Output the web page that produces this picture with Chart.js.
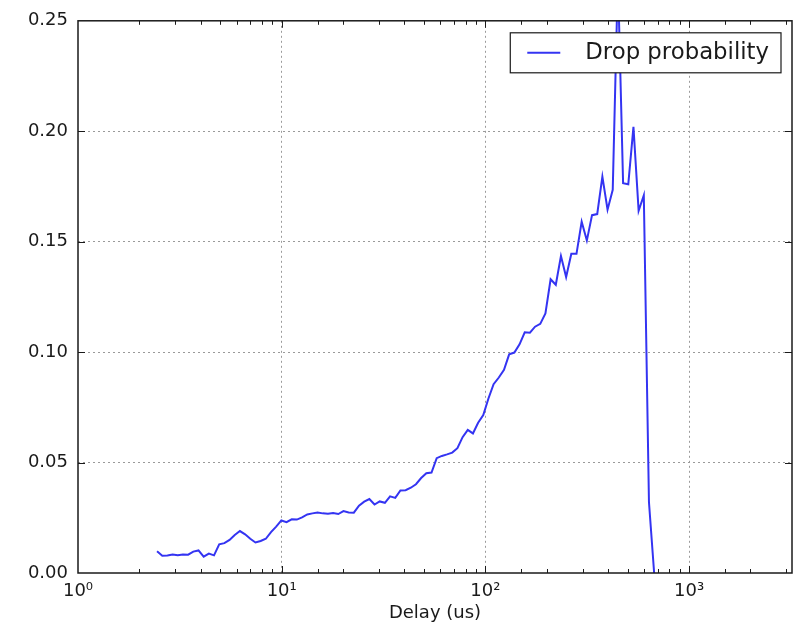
<!DOCTYPE html>
<html>
<head>
<meta charset="utf-8">
<title>Drop probability vs delay</title>
<script src="https://cdn.jsdelivr.net/npm/chart.js@4/dist/chart.umd.min.js"></script>
<style>
  html, body { margin: 0; padding: 0; background: #fff; }
  #wrap { width: 803px; height: 633px; }
</style>
</head>
<body>
<div id="wrap"><canvas id="dropChart" width="803" height="633"></canvas></div>
<script>
// delay bins (us), log spaced
const delayUs = [
  2.444, 2.592, 2.748, 2.913, 3.089, 3.275, 3.473, 3.682, 3.904, 4.139,
  4.389, 4.653, 4.934, 5.231, 5.547, 5.881, 6.236, 6.612, 7.010, 7.433,
  7.881, 8.357, 8.861, 9.395, 9.958, 10.56, 11.20, 11.87, 12.59, 13.35,
  14.15, 15.00, 15.91, 16.87, 17.88, 18.96, 20.10, 21.32, 22.60, 23.96,
  25.41, 26.94, 28.56, 30.28, 32.11, 34.04, 36.10, 38.27, 40.58, 43.03,
  45.62, 48.37, 51.29, 54.38, 57.66, 61.14, 64.82, 68.73, 72.87, 77.27,
  81.93, 86.86, 92.10, 97.62, 103.5, 109.7, 116.4, 123.4, 130.8, 138.7,
  147.1, 156.0, 165.4, 175.3, 185.9, 197.1, 209.0, 221.6, 234.9, 249.1,
  264.1, 280.0, 296.9, 314.8, 333.8, 353.9, 375.2, 397.8, 421.8, 447.2,
  474.2, 502.8, 533.1, 565.2, 599.3, 635.3, 673.6
];

const dropProb = [
  0.0098, 0.0078, 0.0079, 0.0084, 0.0080, 0.0084, 0.0083, 0.0097, 0.0102, 0.0074,
  0.0088, 0.0080, 0.0130, 0.0135, 0.0150, 0.0172, 0.0190, 0.0175, 0.0155, 0.0138,
  0.0145, 0.0155, 0.0185, 0.0210, 0.0238, 0.0230, 0.0243, 0.0242, 0.0252, 0.0265,
  0.0270, 0.0274, 0.0270, 0.0268, 0.0272, 0.0267, 0.0280, 0.0274, 0.0273, 0.0305,
  0.0323, 0.0335, 0.0310, 0.0324, 0.0318, 0.0347, 0.0340, 0.0374, 0.0375, 0.0386,
  0.0402, 0.0430, 0.0452, 0.0455, 0.0520, 0.0530, 0.0537, 0.0545, 0.0565, 0.0615,
  0.0648, 0.0632, 0.0680, 0.0715, 0.0790, 0.0855, 0.0885, 0.0920, 0.0990, 0.0998,
  0.1035, 0.1090, 0.1088, 0.1115, 0.1128, 0.1175, 0.1330, 0.1305, 0.1435, 0.1340,
  0.1445, 0.1445, 0.1590, 0.1505, 0.1620, 0.1625, 0.1795, 0.1645, 0.1735, 0.2700,
  0.1765, 0.1760, 0.2020, 0.1640, 0.1710, 0.0320, 0.0000
];

const decades = [1, 10, 100, 1000];
const decadeLabels = ['10\u2070', '10\u00b9', '10\u00b2', '10\u00b3'];
const yTickValues = [0, 0.05, 0.10, 0.15, 0.20, 0.25];

const FONT = "'DejaVu Sans', 'Liberation Sans', sans-serif";
const INK = '#1a1a1a';
const LINE_BLUE = '#3434f2';

function decadeIndex(v) {
  return decades.findIndex(d => Math.abs(d - v) < d * 1e-6);
}

// matplotlib-like frame with inward ticks on all four sides
const axisFrame = {
  id: 'axisFrame',
  afterDatasetsDraw(chart) {
    const { ctx, chartArea: a, scales: { x, y } } = chart;
    ctx.save();
    ctx.strokeStyle = INK;
    ctx.lineWidth = 1;
    ctx.beginPath();
    x.ticks.forEach(t => {
      const px = Math.round(x.getPixelForValue(t.value)) + 0.5;
      if (px <= a.left + 1 || px >= a.right - 1) return;
      const len = decadeIndex(t.value) >= 0 ? 7 : 4;
      ctx.moveTo(px, a.bottom); ctx.lineTo(px, a.bottom - len);
      ctx.moveTo(px, a.top); ctx.lineTo(px, a.top + len);
    });
    y.ticks.forEach(t => {
      const py = Math.round(y.getPixelForValue(t.value)) + 0.5;
      if (py <= a.top + 1 || py >= a.bottom - 1) return;
      ctx.moveTo(a.left, py); ctx.lineTo(a.left + 7, py);
      ctx.moveTo(a.right, py); ctx.lineTo(a.right - 7, py);
    });
    ctx.stroke();
    ctx.lineWidth = 1.5;
    ctx.strokeRect(a.left, a.top, a.right - a.left, a.bottom - a.top);
    ctx.restore();
  }
};

// boxed legend in the upper right corner of the plot
const boxLegend = {
  id: 'boxLegend',
  afterDraw(chart) {
    const { ctx, chartArea: a } = chart;
    const ds = chart.data.datasets[0];
    ctx.save();
    ctx.font = '22.8px ' + FONT;
    const tw = ctx.measureText(ds.label).width;
    const w = 17 + 33 + 25 + tw + 12;
    const h = 40;
    const right = a.right - 11;
    const left = right - w;
    const top = a.top + 12;
    ctx.fillStyle = '#fff';
    ctx.fillRect(left, top, w, h);
    ctx.strokeStyle = INK;
    ctx.lineWidth = 1.2;
    ctx.strokeRect(left, top, w, h);
    const midY = top + h / 2;
    ctx.strokeStyle = ds.borderColor;
    ctx.lineWidth = 2;
    ctx.beginPath();
    ctx.moveTo(left + 17, midY);
    ctx.lineTo(left + 50, midY);
    ctx.stroke();
    ctx.fillStyle = INK;
    ctx.textBaseline = 'middle';
    ctx.fillText(ds.label, left + 75, midY);
    ctx.restore();
  }
};

new Chart(document.getElementById('dropChart'), {
  type: 'line',
  data: {
    datasets: [{
      label: 'Drop probability',
      data: delayUs.map((d, i) => ({ x: d, y: dropProb[i] })),
      borderColor: LINE_BLUE,
      borderWidth: 2,
      pointRadius: 0,
      tension: 0,
      fill: false,
      clip: 0
    }]
  },
  options: {
    responsive: false,
    animation: false,
    layout: { padding: { left: 0, right: 11, top: 19, bottom: 0 } },
    plugins: {
      legend: { display: false },
      tooltip: { enabled: false }
    },
    scales: {
      x: {
        type: 'logarithmic',
        min: 1,
        max: 3200,
        grid: {
          drawTicks: false,
          lineWidth: 1,
          color: ctx => (ctx.tick && decadeIndex(ctx.tick.value) > 0) ? '#9a9a9a' : 'rgba(0,0,0,0)'
        },
        border: { display: false, dash: [2, 3] },
        ticks: {
          autoSkip: false,
          maxRotation: 0,
          minRotation: 0,
          padding: 8,
          color: INK,
          font: { family: FONT, size: 18 },
          callback: v => {
            const i = decadeIndex(v);
            return i >= 0 ? decadeLabels[i] : '';
          }
        },
        title: {
          display: true,
          text: 'Delay (us)',
          color: INK,
          font: { family: FONT, size: 18 },
          padding: { top: 0, bottom: 9 }
        },
        afterFit: s => { s.height = 60; }
      },
      y: {
        min: 0,
        max: 0.25,
        afterBuildTicks: s => { s.ticks = yTickValues.map(v => ({ value: v })); },
        grid: {
          drawTicks: false,
          lineWidth: 1,
          color: ctx => (ctx.tick && ctx.tick.value > 0 && ctx.tick.value < 0.25) ? '#9a9a9a' : 'rgba(0,0,0,0)'
        },
        border: { display: false, dash: [2, 3] },
        ticks: {
          padding: 10,
          color: INK,
          font: { family: FONT, size: 18 },
          callback: v => v.toFixed(2)
        },
        afterFit: s => { s.width = 78; }
      }
    }
  },
  plugins: [axisFrame, boxLegend]
});
</script>
</body>
</html>
